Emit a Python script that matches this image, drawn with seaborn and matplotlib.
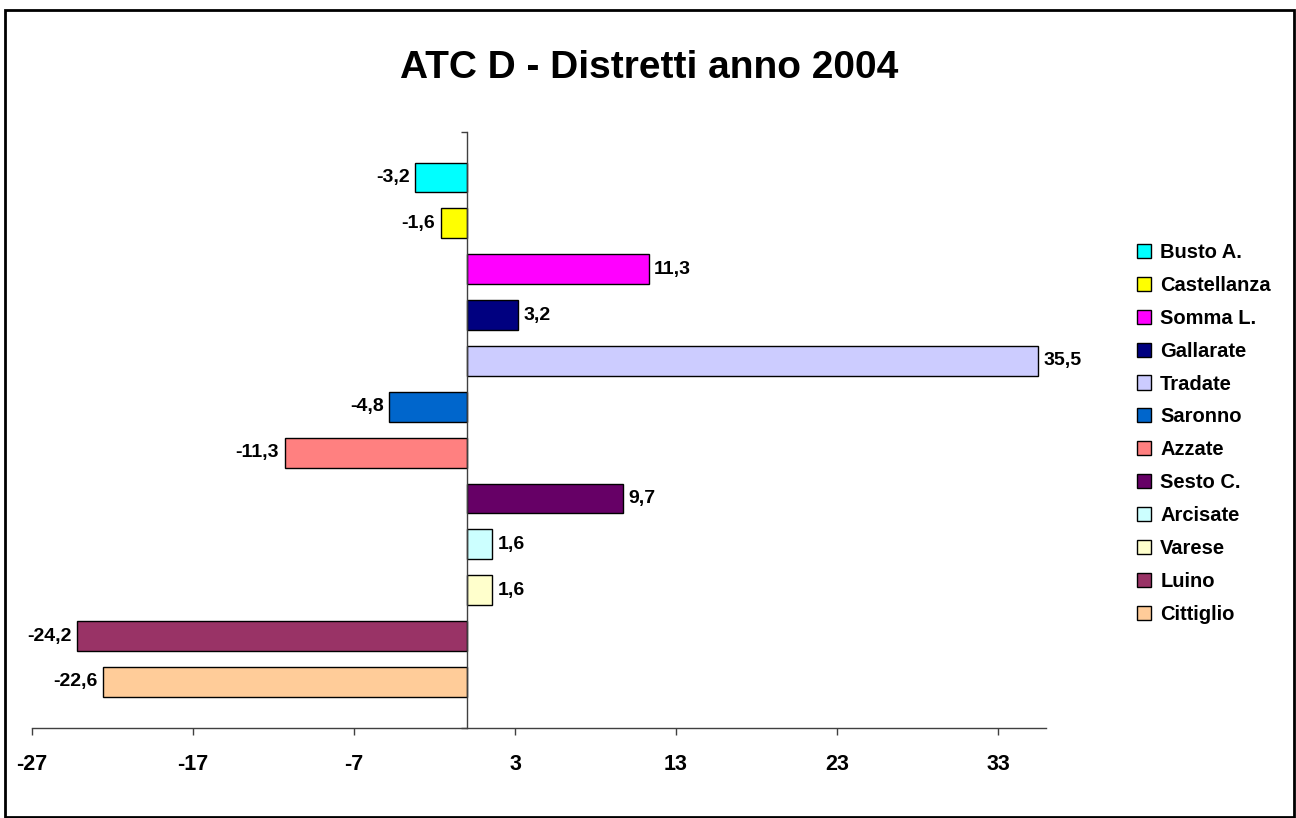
import matplotlib
matplotlib.use("Agg")
import matplotlib.pyplot as plt
import seaborn as sns
import pandas as pd
from matplotlib.patches import Patch, Rectangle

# Data
districts = ["Busto A.", "Castellanza", "Somma L.", "Gallarate", "Tradate", "Saronno",
             "Azzate", "Sesto C.", "Arcisate", "Varese", "Luino", "Cittiglio"]
values = [-3.2, -1.6, 11.3, 3.2, 35.5, -4.8, -11.3, 9.7, 1.6, 1.6, -24.2, -22.6]
colors = ["#00FFFF", "#FFFF00", "#FF00FF", "#000080", "#CCCCFF", "#0066CC",
          "#FF8080", "#660066", "#CCFFFF", "#FFFFCC", "#993366", "#FFCC99"]
xticks = [-27, -17, -7, 3, 13, 23, 33]

sns.set_theme(style="white")
plt.rcParams["font.family"] = ["Liberation Sans", "DejaVu Sans"]
plt.rcParams["font.weight"] = "bold"
plt.rcParams["text.color"] = "black"
plt.rcParams["xtick.labelcolor"] = "black"

df = pd.DataFrame({"district": districts, "value": values})
palette = dict(zip(districts, colors))

fig = plt.figure(figsize=(12.96, 8.18), dpi=100)
ax = fig.add_axes([32 / 1296, 1 - 727.7 / 818, (1046.3 - 32) / 1296, (727.7 - 131.7) / 818])

sns.barplot(data=df, x="value", y="district", hue="district", palette=palette,
            orient="h", width=0.65, dodge=False, legend=False,
            edgecolor="black", linewidth=1.0, saturation=1, ax=ax)

for cont in ax.containers:
    ax.bar_label(cont, labels=[f"{v:.1f}".replace(".", ",") for v in cont.datavalues],
                 padding=4, fontsize=14, fontweight="bold", color="black")

ax.set_xlim(-27, 36)
ax.set_ylim(12, -1)
ax.set_xticks(xticks)
ax.set_xticklabels([str(t) for t in xticks], fontsize=15.5, fontweight="bold", color="black")
ax.set_yticks([-1, 12])
ax.set_yticklabels([])
ax.set_xlabel("")
ax.set_ylabel("")
ax.tick_params(axis="x", direction="out", length=5, width=1, color="#404040", pad=14, bottom=True)
ax.tick_params(axis="y", direction="out", length=4, width=1, color="#404040", left=True)
for s in ["top", "right"]:
    ax.spines[s].set_visible(False)
ax.spines["left"].set_position(("data", 0))
ax.spines["left"].set_color("#404040")
ax.spines["bottom"].set_color("#404040")
ax.spines["left"].set_linewidth(1)
ax.spines["bottom"].set_linewidth(1)
ax.set_zorder(2)

handles = [Patch(facecolor=c, edgecolor="black", linewidth=1, label=d)
           for d, c in zip(districts, colors)]
fig.legend(handles=handles, loc="upper left", bbox_to_anchor=(1137 / 1296, 1 - 243 / 818),
           frameon=False, handlelength=0.7, handleheight=0.7,
           handletextpad=0.45, labelspacing=0.69, borderpad=0, borderaxespad=0,
           labelcolor="black", prop={"weight": "bold", "size": 14.5})

fig.text(0.5008, 1 - 68 / 818, "ATC D - Distretti anno 2004", ha="center", va="center",
         fontsize=28, fontweight="bold", color="black")

# outer chart border
fig.patches.append(Rectangle((5 / 1296, 0.001), (1294 - 5) / 1296, 1 - 10 / 818 - 0.001,
                             transform=fig.transFigure, fill=False, edgecolor="black",
                             linewidth=2))

fig.savefig("out.png", dpi=100)
